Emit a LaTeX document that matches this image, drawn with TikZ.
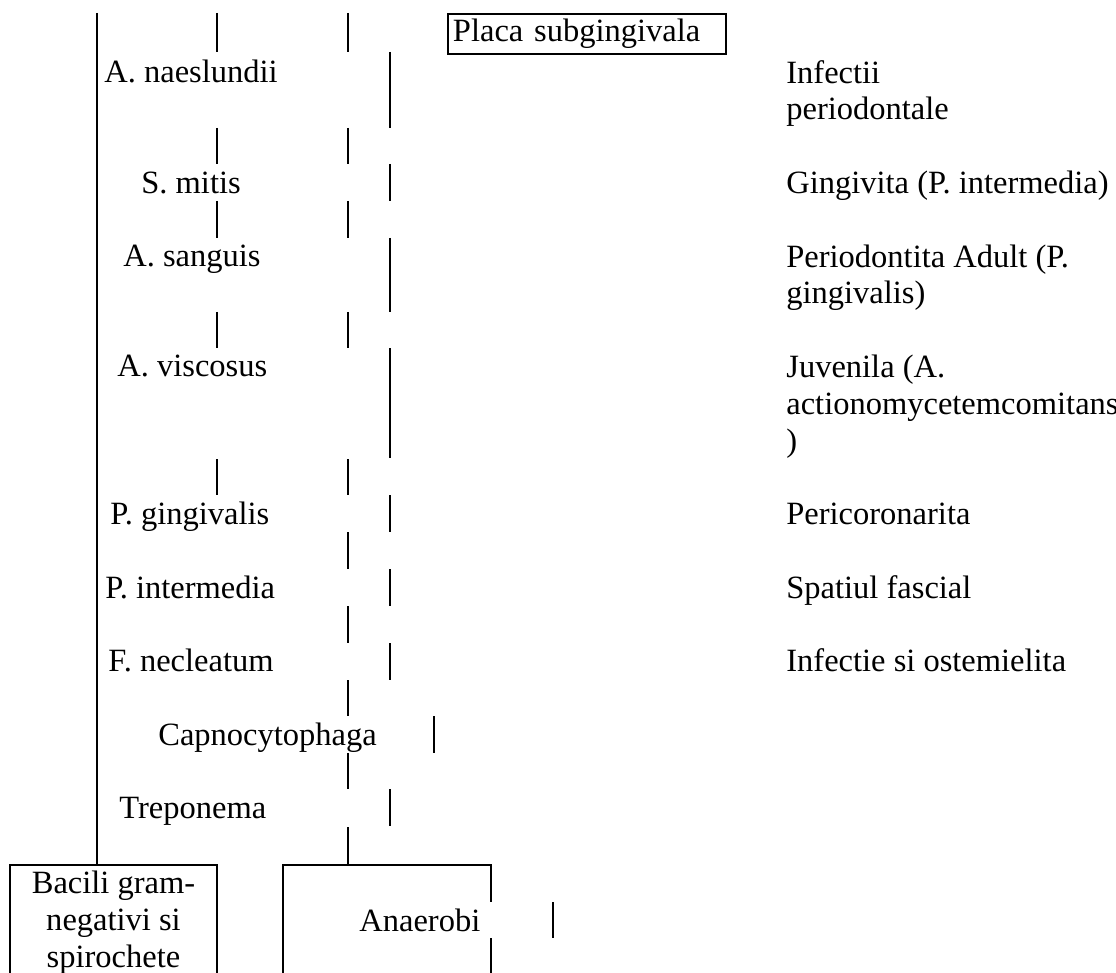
\documentclass[tikz,border=0pt]{standalone}
\usepackage{fontspec}
\setmainfont{Liberation Serif}
\usetikzlibrary{positioning}

\tikzset{
  bar/.style={line width=1.1pt},
  txt/.style={anchor=base west,align=left,inner sep=0pt},
}

\begin{document}
\begin{tikzpicture}[x=0.02cm,y=-0.02cm,font=\fontsize{18.5}{21}\selectfont]
  \useasboundingbox (0,0) rectangle (1116,973);
  % header box
  \node[draw,bar,anchor=north west,minimum width=5.56cm,minimum height=0.8cm,text width=5.36cm,inner xsep=0.1cm,inner ysep=0pt,align=left] (placa) at (447,13) {Placa subgingivala};
  % bacteria
  \node[txt] (naeslundii) at (104,83) {A. naeslundii};
  \node[txt] (mitis) at (141,194) {S. mitis};
  \node[txt] (sanguis) at (123,267) {A. sanguis};
  \node[txt] (viscosus) at (117,377) {A. viscosus};
  \node[txt] (pgingivalis) at (110,524) {P. gingivalis};
  \node[txt] (pintermedia) at (105,598) {P. intermedia};
  \node[txt] (necleatum) at (108,671) {F. necleatum};
  \node[txt] (capno) at (158,745) {Capnocytophaga};
  \node[txt] (treponema) at (119,818) {Treponema};
  % infections (base = last line)
  \node[txt] (infperio) at (786,120) {Infectii\\periodontale};
  \node[txt] (gingivita) at (786,194) {Gingivita (P. intermedia)};
  \node[txt] (adult) at (786,304) {Periodontita Adult (P.\\gingivalis)};
  \node[txt] (juvenila) at (786,451) {Juvenila (A.\\actionomycetemcomitans\\)};
  \node[txt] (pericor) at (786,524) {Pericoronarita};
  \node[txt] (fascial) at (786,598) {Spatiul fascial};
  \node[txt] (osteo) at (786,671) {Infectie si ostemielita};
  % bottom boxes
  \coordinate (bacilitop) at (97,865);
  \coordinate (anaerobitop) at (348,865);
  \draw[bar] (10,973) |- (217,865) -- (217,973);
  \node[anchor=base,align=center,inner sep=0pt] (bacili) at (113.5,967) {Bacili gram-\\negativi si\\spirochete};
  \draw[bar] (283,973) |- (491,865) -- (491,902);
  \draw[bar] (491,938) -- (491,973);
  \node[txt] (anaerobi) at (359,931) {Anaerobi};
  \draw[bar] (553,902) -- (553,938);
  % table rules
  \draw[bar] (97,13) -- (bacilitop);
  \foreach \ya/\yb in {13/52,128/164,201/238,312/348,459/495}
    \draw[bar] (217,\ya) -- (217,\yb);
  \foreach \ya/\yb in {13/52,128/164,201/238,312/348,459/495,532/569,606/643,680/716,753/789}
    \draw[bar] (348,\ya) -- (348,\yb);
  \draw[bar] (348,827) -- (anaerobitop);
  \foreach \ya/\yb in {52/128,164/201,238/312,348/458,495/532,569/606,643/680,789/826}
    \draw[bar] (390,\ya) -- (390,\yb);
  \draw[bar] (434,716) -- (434,753);
\end{tikzpicture}
\end{document}
